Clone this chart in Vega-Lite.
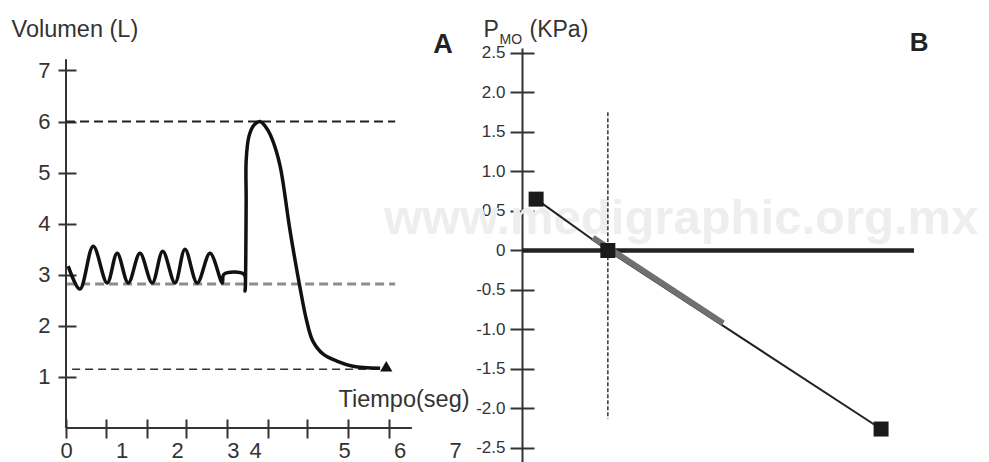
{
  "$schema": "https://vega.github.io/schema/vega-lite/v6.json",
  "background": "white",
  "padding": {"left": 11, "top": 17, "right": 0, "bottom": 0},
  "config": {
    "font": "Liberation Sans",
    "view": {"stroke": null},
    "axis": {"grid": false, "labelFlush": false, "labelOverlap": false}
  },
  "spacing": 64,
  "bounds": "flush",
  "hconcat": [
    {
      "width": 392,
      "height": 380,
      "layer": [
        {
          "data": {"values": [{}]},
          "mark": {"type": "rule", "color": "#333333", "strokeWidth": 2},
          "encoding": {
            "x": {"datum": 0, "type": "quantitative", "scale": {"domain": [0, 7.05], "nice": false, "zero": false}, "axis": null},
            "y": {"datum": 0, "type": "quantitative", "scale": {"domain": [0, 7.44], "nice": false, "zero": false}, "axis": null},
            "y2": {"datum": 7.22}
          }
        },
        {
          "data": {"values": [{}]},
          "mark": {"type": "rule", "color": "#333333", "strokeWidth": 2},
          "encoding": {
            "x": {"datum": 0, "type": "quantitative", "scale": {"domain": [0, 7.05], "nice": false, "zero": false}, "axis": null},
            "x2": {"datum": 6.22},
            "y": {"datum": 0, "type": "quantitative", "scale": {"domain": [0, 7.44], "nice": false, "zero": false}, "axis": null}
          }
        },
        {
          "data": {"values": [{"level": 6}]},
          "mark": {"type": "rule", "color": "#222222", "strokeWidth": 2, "strokeDash": [9, 5]},
          "encoding": {
            "x": {"datum": 0, "type": "quantitative", "scale": {"domain": [0, 7.05], "nice": false, "zero": false}, "axis": null},
            "x2": {"datum": 5.92},
            "y": {"field": "level", "type": "quantitative", "scale": {"domain": [0, 7.44], "nice": false, "zero": false}, "axis": null}
          }
        },
        {
          "data": {"values": [{"level": 2.82}]},
          "mark": {"type": "rule", "color": "#8c8c8c", "strokeWidth": 3, "strokeDash": [9, 5]},
          "encoding": {
            "x": {"datum": 0.02, "type": "quantitative", "scale": {"domain": [0, 7.05], "nice": false, "zero": false}, "axis": null},
            "x2": {"datum": 5.92},
            "y": {"field": "level", "type": "quantitative", "scale": {"domain": [0, 7.44], "nice": false, "zero": false}, "axis": null}
          }
        },
        {
          "data": {"values": [{"level": 1.15}]},
          "mark": {"type": "rule", "color": "#333333", "strokeWidth": 1.6, "strokeDash": [8, 5]},
          "encoding": {
            "x": {"datum": 0.11, "type": "quantitative", "scale": {"domain": [0, 7.05], "nice": false, "zero": false}, "axis": null},
            "x2": {"datum": 5.7},
            "y": {"field": "level", "type": "quantitative", "scale": {"domain": [0, 7.44], "nice": false, "zero": false}, "axis": null}
          }
        },
        {
          "data": {"values": [
            {"i": 1, "t": 0.04, "v": 3.17},
            {"i": 2, "t": 0.25, "v": 2.72},
            {"i": 3, "t": 0.49, "v": 3.56},
            {"i": 4, "t": 0.74, "v": 2.84},
            {"i": 5, "t": 0.92, "v": 3.42},
            {"i": 6, "t": 1.12, "v": 2.84},
            {"i": 7, "t": 1.33, "v": 3.42},
            {"i": 8, "t": 1.55, "v": 2.84},
            {"i": 9, "t": 1.74, "v": 3.46},
            {"i": 10, "t": 1.96, "v": 2.84},
            {"i": 11, "t": 2.14, "v": 3.5},
            {"i": 12, "t": 2.36, "v": 2.84},
            {"i": 13, "t": 2.59, "v": 3.42},
            {"i": 14, "t": 2.81, "v": 2.84},
            {"i": 15, "t": 2.84, "v": 3.01},
            {"i": 16, "t": 3.2, "v": 3.01},
            {"i": 17, "t": 3.22, "v": 2.68},
            {"i": 18, "t": 3.24, "v": 4.44},
            {"i": 19, "t": 3.24, "v": 5.23},
            {"i": 20, "t": 3.29, "v": 5.71},
            {"i": 21, "t": 3.38, "v": 5.93},
            {"i": 22, "t": 3.49, "v": 6.0},
            {"i": 23, "t": 3.62, "v": 5.85},
            {"i": 24, "t": 3.72, "v": 5.62},
            {"i": 25, "t": 3.85, "v": 5.13},
            {"i": 26, "t": 4.03, "v": 3.86},
            {"i": 27, "t": 4.21, "v": 2.74},
            {"i": 28, "t": 4.33, "v": 2.09},
            {"i": 29, "t": 4.44, "v": 1.7},
            {"i": 30, "t": 4.62, "v": 1.45},
            {"i": 31, "t": 4.87, "v": 1.31},
            {"i": 32, "t": 5.16, "v": 1.21},
            {"i": 33, "t": 5.65, "v": 1.17}
          ]},
          "mark": {"type": "line", "color": "#111111", "strokeWidth": 3.5, "interpolate": "catmull-rom"},
          "encoding": {
            "x": {"field": "t", "type": "quantitative", "scale": {"domain": [0, 7.05], "nice": false, "zero": false},
              "axis": {"orient": "bottom", "values": [0, 0.72, 1.46, 2.16, 2.9, 3.63, 4.33, 5.07, 5.81], "tickSize": 10, "tickWidth": 2, "tickColor": "#333333", "labels": false, "domain": false, "title": null}},
            "y": {"field": "v", "type": "quantitative", "scale": {"domain": [0, 7.44], "nice": false, "zero": false},
              "axis": {"orient": "left", "values": [1, 2, 3, 4, 5, 6, 7], "tickSize": 8, "tickWidth": 2, "tickColor": "#333333", "domain": false, "labelFontSize": 22, "labelColor": "#333333", "labelPadding": 8,
                "title": "Volumen (L)", "titleAngle": 0, "titleAlign": "left", "titleBaseline": "alphabetic", "titleX": -55, "titleY": -12, "titleFontSize": 23.5, "titleFontWeight": "normal", "titleColor": "#333333"}},
            "order": {"field": "i", "type": "quantitative"}
          }
        },
        {
          "data": {"values": [{"t": 5.76, "v": 1.21}]},
          "mark": {"type": "point", "shape": "triangle-up", "filled": true, "color": "#111111", "size": 150, "opacity": 1},
          "encoding": {
            "x": {"field": "t", "type": "quantitative", "scale": {"domain": [0, 7.05], "nice": false, "zero": false},
              "axis": {"orient": "bottom", "values": [0, 0.72, 1.46, 2.16, 2.9, 3.63, 4.33, 5.07, 5.81], "tickSize": -9, "tickWidth": 2, "tickColor": "#333333", "labels": false, "domain": false, "title": null}},
            "y": {"field": "v", "type": "quantitative", "scale": {"domain": [0, 7.44], "nice": false, "zero": false},
              "axis": {"orient": "left", "values": [1, 2, 3, 4, 5, 6, 7], "tickSize": -10, "tickWidth": 2, "tickColor": "#333333", "labels": false, "domain": false, "title": null}}
          }
        },
        {
          "data": {"values": [{"panel": "A"}]},
          "mark": {"type": "text", "fontSize": 27, "fontWeight": "bold", "color": "#222222", "align": "center", "baseline": "alphabetic"},
          "encoding": {
            "text": {"field": "panel"},
            "x": {"datum": 6.78, "type": "quantitative", "scale": {"domain": [0, 7.05], "nice": false, "zero": false},
              "axis": {"orient": "bottom", "values": [0, 1, 2, 3, 3.4, 5, 6, 7], "ticks": false, "domain": false, "labelExpr": "datum.value == 3.4 ? '4' : format(datum.value, 'd')", "labelFontSize": 22, "labelColor": "#333333", "labelPadding": 12,
                "title": "Tiempo(seg)", "titleX": 272, "titleY": -22, "titleAlign": "left", "titleBaseline": "alphabetic", "titleFontSize": 23.5, "titleFontWeight": "normal", "titleColor": "#333333"}},
            "y": {"datum": 7.34, "type": "quantitative", "scale": {"domain": [0, 7.44], "nice": false, "zero": false}, "axis": null}
          }
        }
      ],
      "resolve": {"axis": {"x": "independent", "y": "independent"}}
    },
    {
      "width": 392,
      "height": 415,
      "layer": [
        {
          "data": {"values": [{"mark": "www.medigraphic.org.mx"}]},
          "mark": {"type": "text", "font": "Liberation Sans", "fontSize": 49, "fontWeight": "bold", "color": "#eeeeee", "align": "center", "baseline": "alphabetic"},
          "encoding": {
            "text": {"field": "mark"},
            "x": {"datum": 4.06, "type": "quantitative", "scale": {"domain": [0, 10], "nice": false, "zero": false}, "axis": null},
            "y": {"datum": 0.21, "type": "quantitative", "scale": {"domain": [-2.69, 2.563], "nice": false, "zero": false}, "axis": null}
          }
        },
        {
          "data": {"values": [{}]},
          "mark": {"type": "rule", "color": "#222222", "strokeWidth": 4.5},
          "encoding": {
            "x": {"datum": 0, "type": "quantitative", "scale": {"domain": [0, 10], "nice": false, "zero": false}, "axis": null},
            "x2": {"datum": 10},
            "y": {"datum": 0, "type": "quantitative", "scale": {"domain": [-2.69, 2.563], "nice": false, "zero": false}, "axis": null}
          }
        },
        {
          "data": {"values": [{}]},
          "mark": {"type": "rule", "color": "#333333", "strokeWidth": 1.5, "strokeDash": [4, 2]},
          "encoding": {
            "x": {"datum": 2.19, "type": "quantitative", "scale": {"domain": [0, 10], "nice": false, "zero": false}, "axis": null},
            "y": {"datum": 1.75, "type": "quantitative", "scale": {"domain": [-2.69, 2.563], "nice": false, "zero": false}, "axis": null},
            "y2": {"datum": -2.13}
          }
        },
        {
          "data": {"values": [
            {"x": 0.36, "p": 0.65},
            {"x": 2.19, "p": 0},
            {"x": 9.16, "p": -2.26}
          ]},
          "mark": {"type": "line", "color": "#222222", "strokeWidth": 2},
          "encoding": {
            "x": {"field": "x", "type": "quantitative", "scale": {"domain": [0, 10], "nice": false, "zero": false}, "axis": null},
            "y": {"field": "p", "type": "quantitative", "scale": {"domain": [-2.69, 2.563], "nice": false, "zero": false},
              "axis": {"orient": "left", "values": [-2.5, -2, -1.5, -1, -0.5, 0, 0.5, 1, 1.5, 2, 2.5], "labelExpr": "datum.value == 0 ? '0' : replace(format(datum.value, '.1f'), '\u2212', '-')", "tickSize": 12, "tickWidth": 2, "tickColor": "#333333", "domain": true, "domainWidth": 2, "domainColor": "#333333", "labelFontSize": 17, "labelColor": "#333333", "labelPadding": 5,
                "title": "P", "titleAngle": 0, "titleAlign": "left", "titleBaseline": "alphabetic", "titleX": -39, "titleY": -12, "titleFontSize": 23, "titleFontWeight": "normal", "titleColor": "#333333"}}
          }
        },
        {
          "data": {"values": [
            {"x": 1.81, "p": 0.16},
            {"x": 5.13, "p": -0.92}
          ]},
          "mark": {"type": "line", "color": "#707070", "strokeWidth": 6, "strokeCap": "butt"},
          "encoding": {
            "x": {"field": "x", "type": "quantitative", "scale": {"domain": [0, 10], "nice": false, "zero": false}, "axis": null},
            "y": {"field": "p", "type": "quantitative", "scale": {"domain": [-2.69, 2.563], "nice": false, "zero": false},
              "axis": {"orient": "left", "values": [-2.5, -2, -1.5, -1, -0.5, 0, 0.5, 1, 1.5, 2, 2.5], "tickSize": -12, "tickWidth": 2, "tickColor": "#333333", "labels": false, "domain": false, "title": null}}
          }
        },
        {
          "data": {"values": [
            {"x": 0.36, "p": 0.65},
            {"x": 2.19, "p": 0},
            {"x": 9.16, "p": -2.26}
          ]},
          "mark": {"type": "point", "shape": "square", "filled": true, "color": "#1a1a1a", "size": 225, "opacity": 1},
          "encoding": {
            "x": {"field": "x", "type": "quantitative", "scale": {"domain": [0, 10], "nice": false, "zero": false}, "axis": null},
            "y": {"field": "p", "type": "quantitative", "scale": {"domain": [-2.69, 2.563], "nice": false, "zero": false},
              "axis": {"orient": "left", "ticks": false, "labels": false, "domain": false,
                "title": "(KPa)", "titleAngle": 0, "titleAlign": "left", "titleBaseline": "alphabetic", "titleX": 7, "titleY": -12, "titleFontSize": 23, "titleFontWeight": "normal", "titleColor": "#333333"}}
          }
        },
        {
          "data": {"values": [{"panel": "B"}]},
          "mark": {"type": "text", "fontSize": 26, "fontWeight": "bold", "color": "#222222", "align": "center", "baseline": "alphabetic"},
          "encoding": {
            "text": {"field": "panel"},
            "x": {"datum": 10.13, "type": "quantitative", "scale": {"domain": [0, 10], "nice": false, "zero": false}, "axis": null},
            "y": {"datum": 2.53, "type": "quantitative", "scale": {"domain": [-2.69, 2.563], "nice": false, "zero": false},
              "axis": {"orient": "left", "ticks": false, "labels": false, "domain": false,
                "title": "MO", "titleAngle": 0, "titleAlign": "left", "titleBaseline": "alphabetic", "titleX": -23, "titleY": -5, "titleFontSize": 14, "titleFontWeight": "normal", "titleColor": "#333333"}}
          }
        }
      ],
      "resolve": {"axis": {"x": "independent", "y": "independent"}}
    }
  ]
}
